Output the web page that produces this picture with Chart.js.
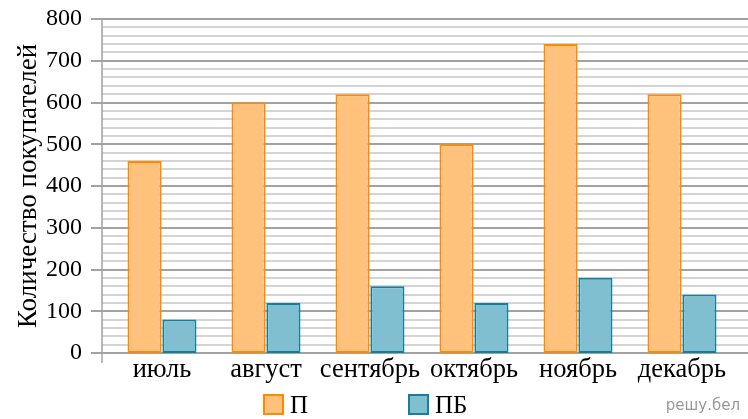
<!DOCTYPE html>
<html lang="ru">
<head>
<meta charset="UTF-8">
<title>Количество покупателей</title>
<script src="https://cdn.jsdelivr.net/npm/chart.js@4"></script>
<style>
    body { margin: 0; background: #fff; }
    .wrap { position: relative; width: 748px; height: 419px; }
    .legend { position: absolute; top: 391px; left: 263px; font-family: 'Liberation Serif', serif; font-size: 25px; color: #000; }
    .legend span.item { position: absolute; white-space: nowrap; }
    .legend .box { display: inline-block; width: 17px; height: 17px; border: 2px solid; vertical-align: -2px; margin-right: 6px; }
    .mark { position: absolute; right: 8px; top: 396px; font-family: 'DejaVu Sans', sans-serif; font-size: 15px; color: #999; }
</style>
</head>
<body>
<div class="wrap">
    <canvas id="chart" width="748" height="419"></canvas>
    <div class="legend">
        <span class="item" style="left:0"><span class="box" style="background:#fec27d;border-color:#ff8a00"></span>П</span>
        <span class="item" style="left:145px"><span class="box" style="background:#80bfd0;border-color:#13809f"></span>ПБ</span>
    </div>
    <div class="mark">решу.бел</div>
</div>
<script>
    // данные
    const months = ['июль', 'август', 'сентябрь', 'октябрь', 'ноябрь', 'декабрь'];
    const seriesP = [460, 600, 620, 500, 740, 620];
    const seriesPB = [80, 120, 160, 120, 180, 140];

    const serif = "'Liberation Serif', 'Times New Roman', serif";

    // сетка: линии через 20, основные через 100, ось Y чуть левее области графика
    const gridPlugin = {
        id: 'grid',
        beforeDatasetsDraw(chart) {
            const { ctx, chartArea, scales: { y } } = chart;
            const axisX = chartArea.left - 8;
            ctx.save();
            y.ticks.forEach(t => {
                const py = Math.round(y.getPixelForValue(t.value));
                const major = t.value % 100 === 0;
                ctx.strokeStyle = major ? '#a2a2a2' : '#c6c6c6';
                ctx.lineWidth = major ? 2 : 1.5;
                ctx.beginPath();
                ctx.moveTo(major ? axisX - 11 : axisX, py);
                ctx.lineTo(chart.width, py);
                ctx.stroke();
            });
            ctx.strokeStyle = '#a2a2a2';
            ctx.lineWidth = 1.5;
            ctx.beginPath();
            ctx.moveTo(axisX, chartArea.top - 1);
            ctx.lineTo(axisX, chartArea.bottom + 10);
            ctx.stroke();
            ctx.restore();
        }
    };

    new Chart(document.getElementById('chart'), {
        type: 'bar',
        data: {
            labels: months,
            datasets: [
                { label: 'П', data: seriesP, backgroundColor: '#fec27d', borderColor: '#ff8a00', borderWidth: 2, borderSkipped: false },
                { label: 'ПБ', data: seriesPB, backgroundColor: '#80bfd0', borderColor: '#13809f', borderWidth: 2, borderSkipped: false }
            ]
        },
        options: {
            responsive: false,
            animation: false,
            layout: { padding: { top: 19, right: 14, bottom: 36, left: 0 } },
            plugins: { legend: { display: false }, tooltip: { enabled: false } },
            datasets: { bar: { categoryPercentage: 0.67, barPercentage: 0.98 } },
            scales: {
                x: {
                    grid: { display: false, drawTicks: false },
                    border: { display: false },
                    ticks: { color: '#000', font: { family: serif, size: 26.5 }, padding: 1, maxRotation: 0 },
                    afterFit: s => { s.height = 30; s.paddingLeft = 0; s.paddingRight = 0; }
                },
                y: {
                    min: 0, max: 800,
                    ticks: {
                        stepSize: 20,
                        autoSkip: false,
                        color: '#000',
                        font: { family: serif, size: 24 },
                        padding: 28,
                        callback: v => v % 100 === 0 ? String(v) : ''
                    },
                    grid: { display: false, drawTicks: false },
                    border: { display: false },
                    title: { display: true, text: 'Количество покупателей', color: '#000', font: { family: serif, size: 27 }, padding: 13 },
                    afterFit: s => { s.width = 110; s.paddingTop = 0; s.paddingBottom = 0; }
                }
            }
        },
        plugins: [gridPlugin]
    });
</script>
</body>
</html>
